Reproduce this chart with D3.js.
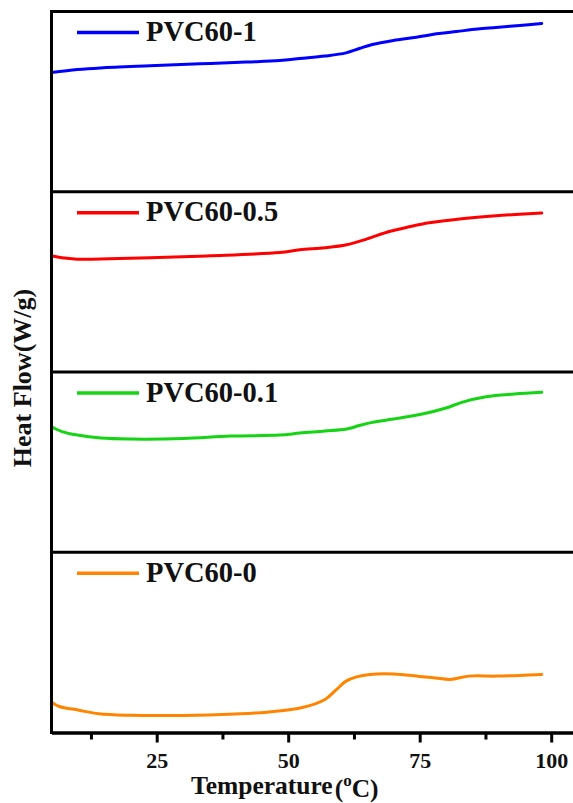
<!DOCTYPE html>
<html>
<head>
<meta charset="utf-8">
<script src="https://cdn.jsdelivr.net/npm/d3@7"></script>
<style>
  body { margin: 0; background: #fff; }
  text { font-family: "Liberation Serif", "Times New Roman", serif; font-weight: bold; fill: #111; }
</style>
</head>
<body>
<div id="chart"></div>
<script>
// DSC traces, heat flow in W/g (stacked, arbitrary offset per panel)
const seriesNames = ["PVC60-1", "PVC60-0.5", "PVC60-0.1", "PVC60-0"];

const tempPVC1 = [5, 9.9, 14.3, 23.7, 33.2, 42, 48.4, 52.2, 57, 61, 63.5, 66, 70, 74, 78.7, 82, 86, 89.5, 94, 98.2];
const flowPVC1 = [1.19, 1.22, 1.237, 1.258, 1.277, 1.295, 1.31, 1.33, 1.355, 1.387, 1.43, 1.47, 1.51, 1.54, 1.58, 1.60, 1.625, 1.64, 1.66, 1.68];

const tempPVC05 = [5, 7, 9.9, 16, 23.75, 35, 48.4, 52.2, 57, 61.1, 65, 69.2, 73, 76.8, 83, 89.5, 94, 98.2];
const flowPVC05 = [1.16, 1.14, 1.127, 1.13, 1.14, 1.16, 1.193, 1.22, 1.24, 1.27, 1.33, 1.403, 1.45, 1.49, 1.53, 1.56, 1.575, 1.587];

const tempPVC01 = [5, 7, 9.9, 14.4, 19.9, 30, 39, 48.4, 52.2, 57, 61.1, 63.5, 66, 70, 75.5, 80, 83, 87.6, 93, 98.2];
const flowPVC01 = [1.253, 1.205, 1.17, 1.14, 1.13, 1.135, 1.16, 1.17, 1.19, 1.21, 1.23, 1.265, 1.297, 1.33, 1.38, 1.44, 1.497, 1.553, 1.58, 1.597];

const tempPVC0 = [5, 6.5, 10.2, 14, 20, 30, 40, 46, 52.5, 57, 59, 61, 63, 65.5, 70, 75, 78, 80.8, 84.4, 89.5, 94, 98.2];
const flowPVC0 = [0.303, 0.26, 0.223, 0.187, 0.172, 0.17, 0.185, 0.203, 0.247, 0.33, 0.42, 0.513, 0.555, 0.58, 0.585, 0.56, 0.545, 0.53, 0.563, 0.563, 0.57, 0.58];

const xTicks = [25, 50, 75, 100];
const xMinorTicks = [12.5, 37.5, 62.5, 87.5];

const temps = [tempPVC1, tempPVC05, tempPVC01, tempPVC0];
const flows = [flowPVC1, flowPVC05, flowPVC01, flowPVC0];
const colors = ["#0000ff", "#ff0000", "#14d414", "#ff8400"];

const w = 573, h = 803;
const plotLeft = 51.5, plotRight = 577.5, plotTop = 11.5, plotBottom = 732.5;
const panelH = (plotBottom - plotTop) / seriesNames.length;

const svg = d3.select("#chart").append("svg")
  .attr("width", w).attr("height", h);

const xScale = d3.scaleLinear().domain([5, 105]).range([plotLeft, plotRight]);

const series = seriesNames.map((name, i) => ({
  name: name,
  color: colors[i],
  points: temps[i].map((t, j) => ({ t: t, f: flows[i][j] }))
}));

series.forEach((s, i) => {
  const y0 = plotTop + i * panelH;
  const yScale = d3.scaleLinear().domain([0, 1.8]).range([y0 + panelH, y0]);

  const line = d3.line()
    .x(d => xScale(d.t))
    .y(d => yScale(d.f))
    .curve(d3.curveCatmullRom.alpha(0.5));

  svg.append("path")
    .datum(s.points)
    .attr("fill", "none")
    .attr("stroke", s.color)
    .attr("stroke-width", 3)
    .attr("stroke-linejoin", "round")
    .attr("stroke-linecap", "round")
    .attr("d", line);

  // panel top border
  svg.append("line")
    .attr("x1", plotLeft - 1.5).attr("x2", plotRight)
    .attr("y1", y0).attr("y2", y0)
    .attr("stroke", "#000").attr("stroke-width", 3);

  // legend
  const ly = y0 + 21;
  svg.append("line")
    .attr("x1", 77).attr("x2", 139)
    .attr("y1", ly).attr("y2", ly)
    .attr("stroke", s.color).attr("stroke-width", 3.5);
  svg.append("text")
    .attr("x", 146).attr("y", ly + 8.5)
    .style("font-size", "28.5px")
    .text(s.name);
});

// left spine
svg.append("line")
  .attr("x1", plotLeft).attr("x2", plotLeft)
  .attr("y1", plotTop - 1.5).attr("y2", plotBottom + 1.5)
  .attr("stroke", "#000").attr("stroke-width", 3);

// bottom axis
const xAxis = d3.axisBottom(xScale).tickValues(xTicks).tickSize(10).tickSizeOuter(0).tickPadding(10);
const xMinor = d3.axisBottom(xScale).tickValues(xMinorTicks).tickSize(7).tickSizeOuter(0).tickFormat("");

const gMinor = svg.append("g").attr("transform", "translate(0," + plotBottom + ")").call(xMinor);
const gx = svg.append("g").attr("transform", "translate(0," + plotBottom + ")").call(xAxis);

[gx, gMinor].forEach(g => {
  g.select(".domain").attr("stroke", "#000").attr("stroke-width", 3);
  g.selectAll(".tick line").attr("stroke", "#000").attr("stroke-width", 3);
});
gx.selectAll(".tick text")
  .style("font-family", "'Liberation Serif', 'Times New Roman', serif")
  .style("font-weight", "bold")
  .style("font-size", "22px")
  .attr("fill", "#111");

// axis titles
const xt = svg.append("text")
  .attr("x", 191).attr("y", 794)
  .style("font-size", "25.5px");
xt.append("tspan").text("Temperature");
xt.append("tspan").attr("dy", 3).attr("dx", 2).text("(");
xt.append("tspan").attr("dy", -11).style("font-size", "17px").text("o");
xt.append("tspan").attr("dy", 11).text("C)");

svg.append("text")
  .attr("transform", "translate(31,378) rotate(-90)")
  .attr("text-anchor", "middle")
  .style("font-size", "26px")
  .text("Heat Flow(W/g)");
</script>
</body>
</html>
